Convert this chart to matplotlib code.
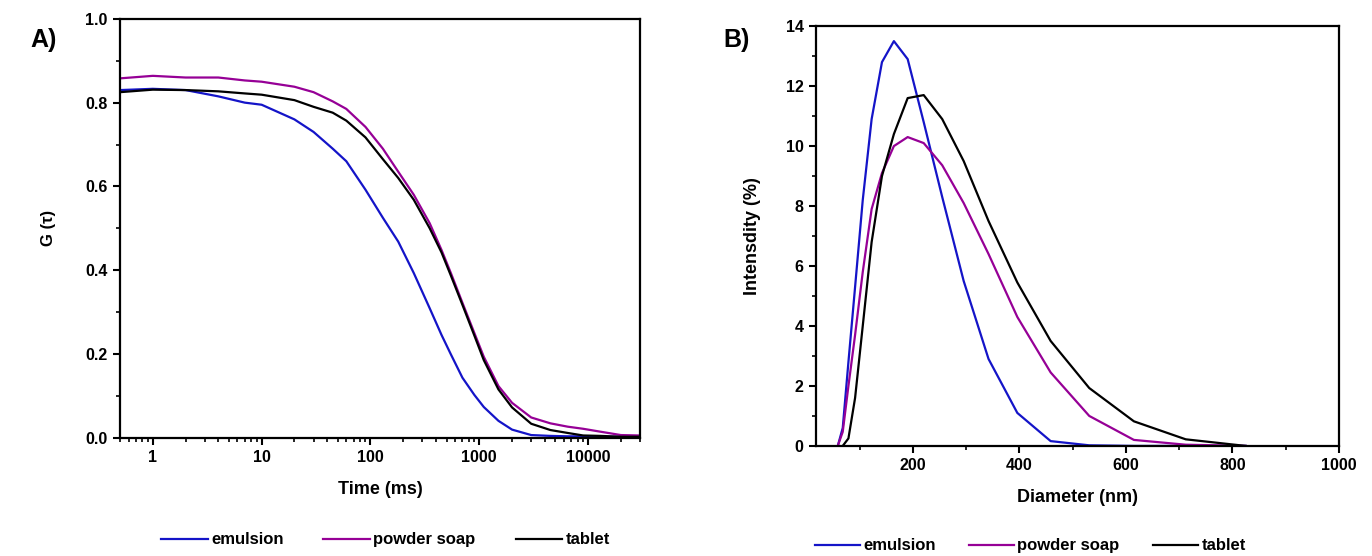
import numpy as np
import matplotlib
matplotlib.use("Agg")
import matplotlib.pyplot as plt
from matplotlib.ticker import MultipleLocator

plt.rcParams['font.family'] = ['Liberation Sans', 'DejaVu Sans']
plt.rcParams['font.weight'] = 'bold'

# ------------------ DATA ------------------ #
series_names = ["emulsion", "powder soap", "tablet"]
series_colors = ["#1414c8", "#960096", "#000000"]

# A) correlation curves
t_ms = [0.5, 1, 2, 4, 7, 10, 20, 30, 45, 60, 90, 130, 180, 250, 350, 450, 550,
        700, 900, 1100, 1500, 2000, 3000, 4500, 6500, 9000, 13000, 20000, 30000]
g_emulsion = [0.830, 0.833, 0.830, 0.815, 0.800, 0.795, 0.760, 0.730, 0.690, 0.660,
              0.592, 0.525, 0.468, 0.393, 0.309, 0.245, 0.198, 0.143, 0.102, 0.073,
              0.040, 0.019, 0.006, 0.004, 0.003, 0.003, 0.002, 0.002, 0.001]
g_powder = [0.858, 0.864, 0.860, 0.860, 0.853, 0.850, 0.838, 0.825, 0.803, 0.785,
            0.742, 0.690, 0.635, 0.580, 0.512, 0.448, 0.392, 0.322, 0.250, 0.193,
            0.123, 0.083, 0.048, 0.034, 0.026, 0.021, 0.014, 0.006, 0.005]
g_tablet = [0.825, 0.831, 0.830, 0.827, 0.822, 0.819, 0.806, 0.790, 0.776, 0.757,
            0.717, 0.665, 0.620, 0.568, 0.500, 0.442, 0.386, 0.317, 0.244, 0.185,
            0.115, 0.072, 0.033, 0.018, 0.011, 0.005, 0.004, 0.002, 0.002]

# B) size distributions
d_nm = [58.8, 68.1, 78.8, 91.3, 105.7, 122.4, 141.8, 164.2, 190.1, 220.2, 255.0,
        295.3, 342.0, 396.1, 458.7, 531.2, 615.1, 712.4, 825.0]
i_emulsion = [0.0, 0.6, 2.8, 5.3, 8.2, 10.9, 12.8, 13.5, 12.9, 10.8, 8.3,
              5.5, 2.9, 1.1, 0.16, 0.02, 0.0, 0.0, 0.0]
i_powder = [0.0, 0.47, 2.0, 3.7, 5.8, 7.9, 9.1, 10.0, 10.3, 10.1, 9.36,
            8.1, 6.4, 4.3, 2.45, 1.0, 0.2, 0.04, 0.0]
i_tablet = [np.nan, 0.0, 0.25, 1.6, 4.0, 6.8, 9.0, 10.4, 11.6, 11.7, 10.9,
            9.5, 7.5, 5.45, 3.5, 1.93, 0.82, 0.22, 0.0]

# ------------------ FIGURE ------------------ #
fig = plt.figure(figsize=(13.72, 5.56), dpi=100)
ax1 = fig.add_axes([0.0875, 0.213, 0.379, 0.753])
ax2 = fig.add_axes([0.5948, 0.198, 0.381, 0.755])

lw = 1.6
for y, name, c in zip([g_emulsion, g_powder, g_tablet], series_names, series_colors):
    ax1.plot(t_ms, y, color=c, lw=lw, label=name)
for y, name, c in zip([i_emulsion, i_powder, i_tablet], series_names, series_colors):
    ax2.plot(d_nm, y, color=c, lw=lw, label=name)

# axis A
ax1.set_xscale('log')
ax1.set_xlim(0.5, 30000)
ax1.set_ylim(0, 1.0)
ax1.set_xticks([1, 10, 100, 1000, 10000])
ax1.set_xticklabels(['1', '10', '100', '1000', '10000'])
ax1.yaxis.set_major_locator(MultipleLocator(0.2))
ax1.yaxis.set_minor_locator(MultipleLocator(0.1))
ax1.yaxis.set_major_formatter(plt.FuncFormatter(lambda v, p: f"{v:.1f}"))
ax1.set_xlabel("Time (ms)", fontsize=13, fontweight='bold', va='center')
ax1.set_ylabel("G (τ)", fontsize=12, fontweight='bold', va='center')
ax1.xaxis.set_label_coords(0.5, -0.125)
ax1.yaxis.set_label_coords(-0.138, 0.5)

# axis B
ax2.set_xlim(18, 1000)
ax2.set_ylim(0, 14)
ax2.xaxis.set_major_locator(MultipleLocator(200))
ax2.xaxis.set_minor_locator(MultipleLocator(100))
ax2.yaxis.set_major_locator(MultipleLocator(2))
ax2.yaxis.set_minor_locator(MultipleLocator(1))
ax2.set_xlabel("Diameter (nm)", fontsize=13, fontweight='bold', va='center')
ax2.set_ylabel("Intensdity (%)", fontsize=13, fontweight='bold', va='center')
ax2.xaxis.set_label_coords(0.5, -0.122)
ax2.yaxis.set_label_coords(-0.122, 0.5)

for ax in (ax1, ax2):
    for s in ax.spines.values():
        s.set_linewidth(1.6)
    ax.tick_params(which='major', direction='out', length=5, width=1.5,
                   labelsize=11.5, pad=4, top=False, right=False)
    ax.tick_params(which='minor', direction='out', length=3, width=1.2,
                   top=False, right=False)
    for lab in ax.get_xticklabels() + ax.get_yticklabels():
        lab.set_fontweight('bold')

# panel letters
fig.text(0.022, 0.928, "A)", fontsize=18, fontweight='bold', va='center')
fig.text(0.527, 0.928, "B)", fontsize=18, fontweight='bold', va='center')

# legends below each panel
h1, l1 = ax1.get_legend_handles_labels()
fig.legend(h1, l1, loc='center', bbox_to_anchor=(0.281, 0.029), ncol=3,
           frameon=False, handlelength=2.8, handletextpad=0.2, columnspacing=2.4,
           prop={'weight': 'bold', 'size': 12})
h2, l2 = ax2.get_legend_handles_labels()
fig.legend(h2, l2, loc='center', bbox_to_anchor=(0.751, 0.018), ncol=3,
           frameon=False, handlelength=2.7, handletextpad=0.2, columnspacing=2.0,
           prop={'weight': 'bold', 'size': 12})

fig.savefig("out.png", dpi=100)
